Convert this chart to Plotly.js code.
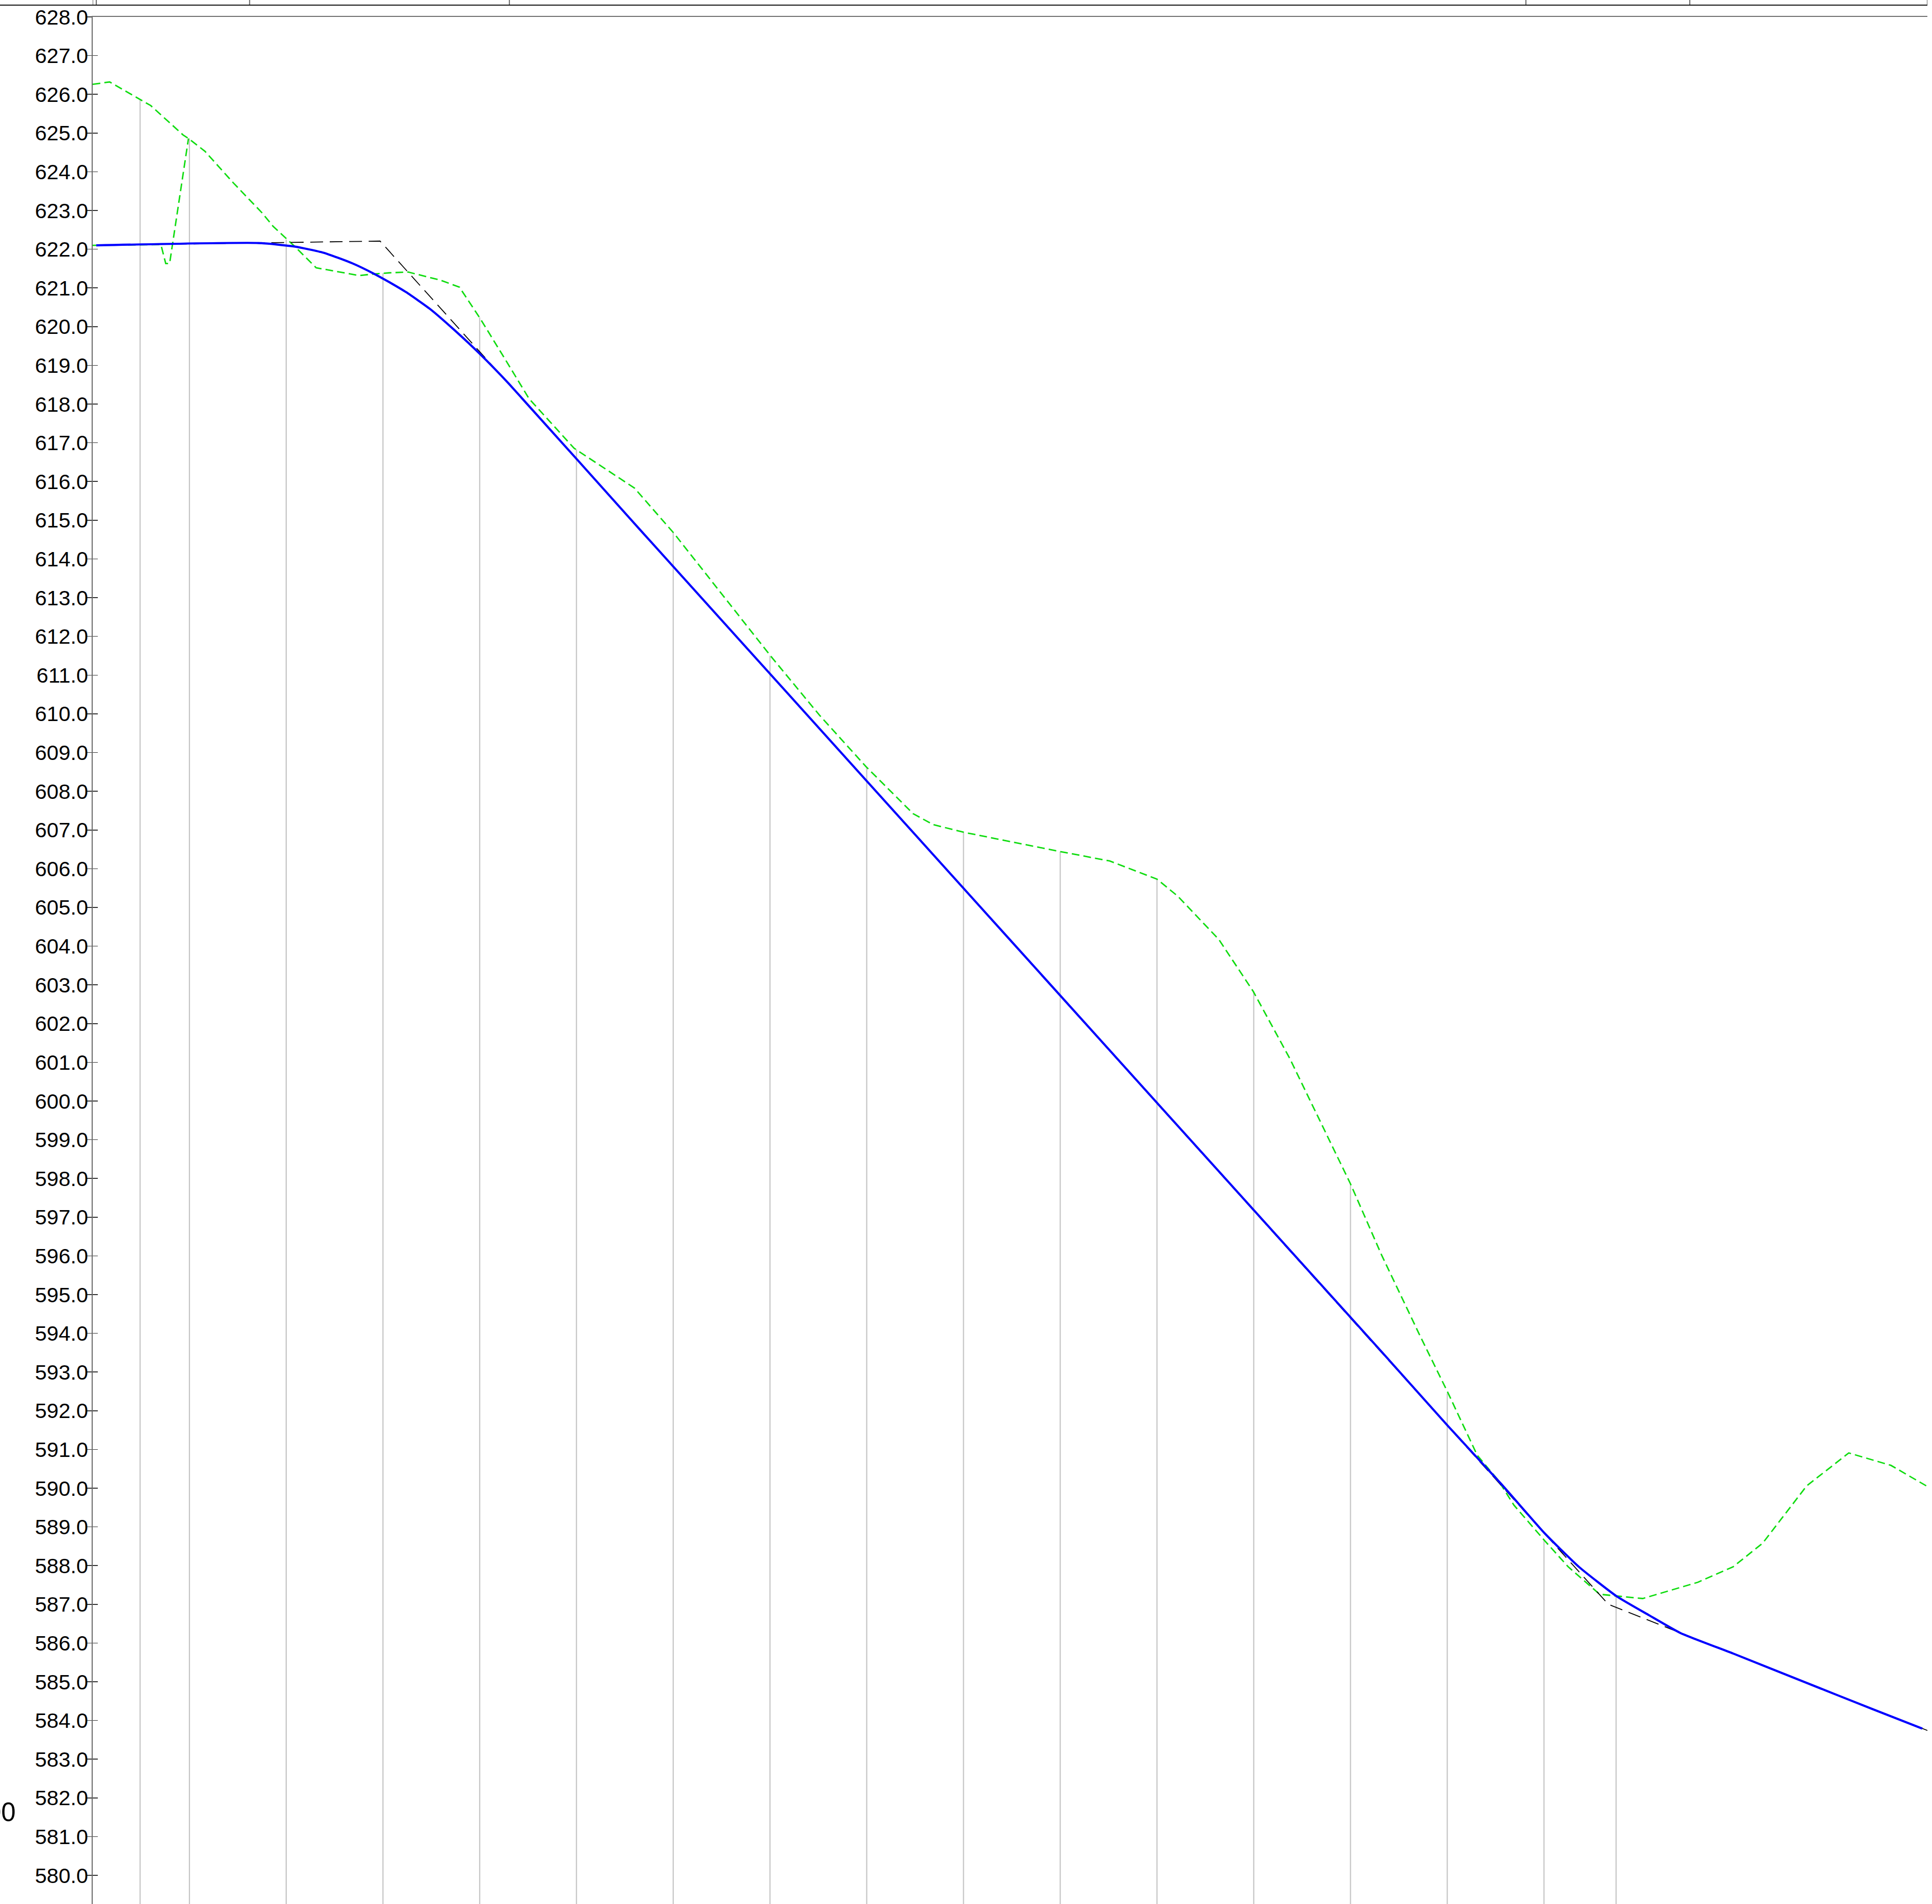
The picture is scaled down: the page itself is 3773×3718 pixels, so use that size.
<!DOCTYPE html>
<html>
<head>
<meta charset="utf-8">
<script src="https://cdn.plot.ly/plotly-3.0.1.min.js"></script>
<style>
  html, body { margin: 0; padding: 0; background: #ffffff; }
  #chart { width: 3773px; height: 3718px; }
</style>
</head>
<body>
<div id="chart"></div>
<script>
// ---- data (station in m from the left edge, elevation in m) ----
const groundStation = [0, 3.5, 12.0, 18.7, 19.8, 23.2, 29.1, 35.0, 37.3, 41.7, 46.2, 55.1, 58.1, 61.3, 65.2, 71.9, 75.8, 80.0, 85.2, 90.2, 99.5, 112.0, 120.1, 140.1, 150.2, 159.9, 169.6, 173.7, 180.1, 200.1, 210.2, 220.0, 224.3, 232.8, 239.9, 247.4, 260.0, 266.4, 274.2, 280.2, 286.2, 290.5, 293.8, 300.1, 305.0, 311.5, 320.4, 331.8, 339.1, 345.2, 354.3, 363.0, 371.7, 379.3];
const groundElev = [626.26, 626.32, 625.71, 624.95, 624.86, 624.53, 623.71, 622.94, 622.59, 622.08, 621.52, 621.32, 621.36, 621.39, 621.41, 621.20, 621.02, 620.23, 619.17, 618.14, 616.86, 615.83, 614.67, 611.50, 609.97, 608.63, 607.42, 607.14, 606.94, 606.44, 606.20, 605.73, 605.29, 604.17, 602.83, 601.11, 597.86, 596.03, 593.98, 592.45, 590.85, 590.21, 589.56, 588.65, 587.97, 587.26, 587.15, 587.57, 587.97, 588.58, 590.06, 590.91, 590.59, 590.04];

const groundBStation = [0, 14.1, 15.1, 15.9, 19.8];
const groundBElev = [622.10, 622.12, 621.63, 621.63, 624.86];

const designStation = [0.74, 34.3, 41.7, 47.7, 53.6, 58.1, 61.3, 64.8, 69.8, 74.7, 80.0, 86.0, 113.1, 266.6, 280.2, 291.3, 300.1, 307.2, 315.0, 321.7, 328.2, 339.1, 353.5, 368.0, 378.2];
const designElev = [622.10, 622.16, 622.07, 621.91, 621.64, 621.37, 621.15, 620.89, 620.45, 619.92, 619.30, 618.53, 614.76, 593.50, 591.60, 590.09, 588.84, 587.97, 587.21, 586.72, 586.26, 585.73, 585.01, 584.29, 583.79];

const gradeStation = [0.74, 59.4, 313.3, 379.3];
const gradeElev = [622.10, 622.21, 587.00, 583.74];

const gridStation = [9.8, 20.0, 40, 60, 80, 100, 120, 140, 160, 180, 200, 220, 240, 260, 280, 300, 314.9];
const gridElev = [625.85, 624.86, 622.25, 621.38, 620.24, 616.83, 614.68, 611.50, 608.60, 606.94, 606.44, 605.73, 602.83, 597.86, 592.45, 588.65, 587.21];

const bandStation = [0, 0.74, 32.44, 86.13, 296.26, 330.14, 379.25];

const yTickVals = [];
for (let v = 580; v <= 628; v += 1) yTickVals.push(v);
const yTickText = yTickVals.map(v => v.toFixed(1));

const sideLabel = "00";

// ---- layout geometry ----
const W = 3773, H = 3718;
const mL = 181, mR = 9;
const bandH = 33;
const plotW = W - mL - mR;
const yTop = 628.0;
const pxPerUnit = 75.606;
const yBottom = yTop - (H - bandH) / pxPerUnit;
const xMax = 379.25;
const yDomTop = 1 - bandH / H;

// grid lines built from station arrays
const gx = [], gy = [];
gridStation.forEach((s, i) => { gx.push(s, s, null); gy.push(yBottom - 1, gridElev[i], null); });

const bx = [], by = [];
bandStation.forEach(s => { bx.push(s, s, null); by.push(0, 10, null); });

const traces = [
  { x: gx, y: gy, mode: 'lines', line: { color: '#c4c4c4', width: 2.2 }, hoverinfo: 'skip', showlegend: false },
  { x: groundStation, y: groundElev, mode: 'lines', line: { color: '#0fdc0f', width: 2.8, dash: '15px,8px' }, showlegend: false },
  { x: groundBStation, y: groundBElev, mode: 'lines', line: { color: '#0fdc0f', width: 2.8, dash: '15px,8px' }, showlegend: false },
  { x: gradeStation, y: gradeElev, mode: 'lines', line: { color: '#000000', width: 1.8, dash: '25px,13px' }, showlegend: false },
  { x: designStation, y: designElev, mode: 'lines', line: { color: '#0000ff', width: 4.2, shape: 'spline', smoothing: 0.5 }, showlegend: false },
  { x: bx, y: by, xaxis: 'x', yaxis: 'y3', mode: 'lines', line: { color: '#555555', width: 1.8 }, cliponaxis: false, showlegend: false, hoverinfo: 'skip' },
  { x: [0], y: [600], xaxis: 'x', yaxis: 'y2', mode: 'markers', marker: { opacity: 0 }, showlegend: false, hoverinfo: 'skip' }
];

const font = 'Liberation Sans, Arial, Helvetica, sans-serif';

const layout = {
  width: W, height: H,
  margin: { l: mL, r: mR, t: 0, b: 0, pad: 0 },
  paper_bgcolor: '#ffffff', plot_bgcolor: '#ffffff',
  showlegend: false,
  font: { family: font, color: '#000000' },
  xaxis: {
    range: [0, xMax], side: 'top', anchor: 'y',
    showline: true, linecolor: '#707070', linewidth: 2.5,
    showgrid: false, zeroline: false, ticks: '', showticklabels: false
  },
  yaxis: {
    domain: [0, yDomTop], range: [yBottom, yTop],
    tickmode: 'array', tickvals: yTickVals, ticktext: yTickText,
    ticks: 'outside', ticklen: 9, tickwidth: 1.6, tickcolor: '#333333',
    tickfont: { family: font, size: 41.5, color: '#000000' },
    showline: true, linecolor: '#666666', linewidth: 1.6,
    showgrid: false, zeroline: false, ticklabelstandoff: -10
  },
  yaxis2: {
    overlaying: 'y', range: [yBottom, yTop], anchor: 'x',
    tickmode: 'array', tickvals: yTickVals,
    ticks: 'inside', ticklen: 10, tickwidth: 1.6, tickcolor: '#333333',
    showticklabels: false, showline: false, showgrid: false, zeroline: false
  },
  yaxis3: {
    domain: [yDomTop, 1], range: [bandH, 0], anchor: 'x',
    visible: false, showgrid: false, zeroline: false
  },
  shapes: [
    { type: 'line', xref: 'paper', yref: 'paper', x0: -mL / plotW, x1: 1, y0: 1 - 10 / H, y1: 1 - 10 / H,
      line: { color: '#111111', width: 2 } }
  ],
  annotations: [
    { xref: 'paper', yref: 'paper', x: (32 - mL) / plotW, y: (H - 3538) / H, xanchor: 'right', yanchor: 'middle',
      text: sideLabel, showarrow: false, font: { family: font, size: 51, color: '#000000' }, borderpad: 0 }
  ]
};

Plotly.newPlot('chart', traces, layout, { staticPlot: true, displayModeBar: false });
</script>
</body>
</html>
